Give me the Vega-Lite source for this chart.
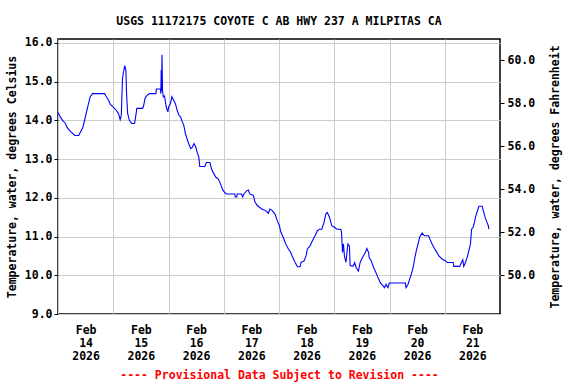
{
  "$schema": "https://vega.github.io/schema/vega-lite/v6.json",
  "width": 442,
  "height": 275,
  "autosize": "none",
  "padding": {"left": 58, "top": 39, "right": 76, "bottom": 70},
  "background": "white",
  "title": {
    "text": "USGS 11172175 COYOTE C AB HWY 237 A MILPITAS CA",
    "font": "DejaVu Sans Mono",
    "fontSize": 11.5,
    "fontWeight": "bold",
    "color": "black",
    "anchor": "middle",
    "offset": 9
  },
  "config": {
    "font": "DejaVu Sans Mono",
    "view": {"stroke": "black", "strokeWidth": 1.5},
    "axis": {
      "labelFont": "DejaVu Sans Mono",
      "labelFontSize": 11.5,
      "labelFontWeight": "bold",
      "labelColor": "black",
      "titleFont": "DejaVu Sans Mono",
      "titleFontSize": 11.5,
      "titleFontWeight": "bold",
      "titleColor": "black",
      "gridColor": "#cccccc",
      "gridWidth": 1,
      "gridOpacity": 1,
      "tickColor": "black",
      "domain": false
    }
  },
  "layer": [
    {
      "data": {
        "values": [
          {"t": "2026-02-14T00:00:00Z", "c": 14.2},
          {"t": "2026-02-14T01:00:00Z", "c": 14.09},
          {"t": "2026-02-14T02:00:00Z", "c": 14.0},
          {"t": "2026-02-14T03:15:00Z", "c": 13.92},
          {"t": "2026-02-14T04:00:00Z", "c": 13.81},
          {"t": "2026-02-14T05:30:00Z", "c": 13.71},
          {"t": "2026-02-14T07:15:00Z", "c": 13.61},
          {"t": "2026-02-14T09:00:00Z", "c": 13.61},
          {"t": "2026-02-14T09:45:00Z", "c": 13.7},
          {"t": "2026-02-14T10:45:00Z", "c": 13.81},
          {"t": "2026-02-14T11:45:00Z", "c": 14.05},
          {"t": "2026-02-14T12:45:00Z", "c": 14.31},
          {"t": "2026-02-14T13:15:00Z", "c": 14.43},
          {"t": "2026-02-14T14:00:00Z", "c": 14.61},
          {"t": "2026-02-14T15:00:00Z", "c": 14.69},
          {"t": "2026-02-14T20:15:00Z", "c": 14.69},
          {"t": "2026-02-14T21:00:00Z", "c": 14.61},
          {"t": "2026-02-14T22:00:00Z", "c": 14.52},
          {"t": "2026-02-14T22:45:00Z", "c": 14.41},
          {"t": "2026-02-15T00:15:00Z", "c": 14.33},
          {"t": "2026-02-15T01:15:00Z", "c": 14.26},
          {"t": "2026-02-15T02:15:00Z", "c": 14.18},
          {"t": "2026-02-15T03:00:00Z", "c": 14.02},
          {"t": "2026-02-15T03:30:00Z", "c": 14.13},
          {"t": "2026-02-15T04:00:00Z", "c": 15.08},
          {"t": "2026-02-15T04:30:00Z", "c": 15.26},
          {"t": "2026-02-15T05:00:00Z", "c": 15.41},
          {"t": "2026-02-15T05:30:00Z", "c": 15.3},
          {"t": "2026-02-15T05:45:00Z", "c": 14.74},
          {"t": "2026-02-15T06:15:00Z", "c": 14.18},
          {"t": "2026-02-15T07:00:00Z", "c": 14.0},
          {"t": "2026-02-15T08:00:00Z", "c": 13.92},
          {"t": "2026-02-15T09:15:00Z", "c": 13.92},
          {"t": "2026-02-15T09:30:00Z", "c": 14.0},
          {"t": "2026-02-15T10:15:00Z", "c": 14.31},
          {"t": "2026-02-15T12:45:00Z", "c": 14.31},
          {"t": "2026-02-15T13:15:00Z", "c": 14.39},
          {"t": "2026-02-15T13:45:00Z", "c": 14.56},
          {"t": "2026-02-15T14:30:00Z", "c": 14.63},
          {"t": "2026-02-15T15:45:00Z", "c": 14.69},
          {"t": "2026-02-15T18:30:00Z", "c": 14.69},
          {"t": "2026-02-15T18:45:00Z", "c": 14.81},
          {"t": "2026-02-15T20:30:00Z", "c": 14.81},
          {"t": "2026-02-15T20:40:00Z", "c": 14.69},
          {"t": "2026-02-15T20:50:00Z", "c": 15.3},
          {"t": "2026-02-15T21:00:00Z", "c": 14.75},
          {"t": "2026-02-15T21:10:00Z", "c": 15.69},
          {"t": "2026-02-15T21:25:00Z", "c": 14.75},
          {"t": "2026-02-15T21:45:00Z", "c": 14.61},
          {"t": "2026-02-15T22:15:00Z", "c": 14.63},
          {"t": "2026-02-15T23:00:00Z", "c": 14.35},
          {"t": "2026-02-15T23:45:00Z", "c": 14.22},
          {"t": "2026-02-16T00:05:00Z", "c": 14.35},
          {"t": "2026-02-16T00:50:00Z", "c": 14.43},
          {"t": "2026-02-16T01:30:00Z", "c": 14.61},
          {"t": "2026-02-16T02:15:00Z", "c": 14.52},
          {"t": "2026-02-16T03:00:00Z", "c": 14.43},
          {"t": "2026-02-16T03:45:00Z", "c": 14.26},
          {"t": "2026-02-16T04:30:00Z", "c": 14.13},
          {"t": "2026-02-16T05:15:00Z", "c": 14.09},
          {"t": "2026-02-16T05:45:00Z", "c": 14.0},
          {"t": "2026-02-16T06:40:00Z", "c": 13.87},
          {"t": "2026-02-16T07:20:00Z", "c": 13.66},
          {"t": "2026-02-16T08:00:00Z", "c": 13.53},
          {"t": "2026-02-16T08:45:00Z", "c": 13.4},
          {"t": "2026-02-16T09:40:00Z", "c": 13.27},
          {"t": "2026-02-16T10:25:00Z", "c": 13.31},
          {"t": "2026-02-16T11:05:00Z", "c": 13.4},
          {"t": "2026-02-16T11:50:00Z", "c": 13.31},
          {"t": "2026-02-16T12:25:00Z", "c": 13.18},
          {"t": "2026-02-16T13:10:00Z", "c": 13.05},
          {"t": "2026-02-16T13:35:00Z", "c": 12.81},
          {"t": "2026-02-16T15:45:00Z", "c": 12.81},
          {"t": "2026-02-16T16:30:00Z", "c": 12.91},
          {"t": "2026-02-16T18:00:00Z", "c": 12.91},
          {"t": "2026-02-16T18:40:00Z", "c": 12.75},
          {"t": "2026-02-16T19:25:00Z", "c": 12.65},
          {"t": "2026-02-16T20:35:00Z", "c": 12.53},
          {"t": "2026-02-16T21:35:00Z", "c": 12.49},
          {"t": "2026-02-16T22:35:00Z", "c": 12.36},
          {"t": "2026-02-16T23:30:00Z", "c": 12.21},
          {"t": "2026-02-17T00:30:00Z", "c": 12.13},
          {"t": "2026-02-17T01:15:00Z", "c": 12.1},
          {"t": "2026-02-17T04:50:00Z", "c": 12.1},
          {"t": "2026-02-17T05:00:00Z", "c": 12.02},
          {"t": "2026-02-17T05:40:00Z", "c": 12.02},
          {"t": "2026-02-17T05:50:00Z", "c": 12.1},
          {"t": "2026-02-17T07:45:00Z", "c": 12.1},
          {"t": "2026-02-17T08:10:00Z", "c": 12.02},
          {"t": "2026-02-17T08:45:00Z", "c": 12.1},
          {"t": "2026-02-17T09:55:00Z", "c": 12.18},
          {"t": "2026-02-17T10:40:00Z", "c": 12.2},
          {"t": "2026-02-17T11:20:00Z", "c": 12.1},
          {"t": "2026-02-17T12:50:00Z", "c": 12.06},
          {"t": "2026-02-17T13:35:00Z", "c": 11.89},
          {"t": "2026-02-17T14:35:00Z", "c": 11.8},
          {"t": "2026-02-17T16:30:00Z", "c": 11.71},
          {"t": "2026-02-17T18:40:00Z", "c": 11.65},
          {"t": "2026-02-17T19:20:00Z", "c": 11.6},
          {"t": "2026-02-17T20:05:00Z", "c": 11.71},
          {"t": "2026-02-17T21:05:00Z", "c": 11.67},
          {"t": "2026-02-17T22:15:00Z", "c": 11.58},
          {"t": "2026-02-17T23:15:00Z", "c": 11.41},
          {"t": "2026-02-18T00:10:00Z", "c": 11.28},
          {"t": "2026-02-18T00:50:00Z", "c": 11.11},
          {"t": "2026-02-18T01:50:00Z", "c": 10.98},
          {"t": "2026-02-18T02:55:00Z", "c": 10.81},
          {"t": "2026-02-18T04:05:00Z", "c": 10.68},
          {"t": "2026-02-18T05:05:00Z", "c": 10.59},
          {"t": "2026-02-18T06:00:00Z", "c": 10.46},
          {"t": "2026-02-18T07:00:00Z", "c": 10.33},
          {"t": "2026-02-18T08:00:00Z", "c": 10.22},
          {"t": "2026-02-18T09:10:00Z", "c": 10.22},
          {"t": "2026-02-18T09:35:00Z", "c": 10.33},
          {"t": "2026-02-18T10:55:00Z", "c": 10.37},
          {"t": "2026-02-18T11:45:00Z", "c": 10.5},
          {"t": "2026-02-18T12:20:00Z", "c": 10.68},
          {"t": "2026-02-18T13:30:00Z", "c": 10.76},
          {"t": "2026-02-18T14:30:00Z", "c": 10.89},
          {"t": "2026-02-18T15:40:00Z", "c": 11.02},
          {"t": "2026-02-18T16:40:00Z", "c": 11.15},
          {"t": "2026-02-18T17:35:00Z", "c": 11.19},
          {"t": "2026-02-18T18:35:00Z", "c": 11.19},
          {"t": "2026-02-18T19:35:00Z", "c": 11.37},
          {"t": "2026-02-18T20:20:00Z", "c": 11.58},
          {"t": "2026-02-18T21:00:00Z", "c": 11.62},
          {"t": "2026-02-18T21:55:00Z", "c": 11.5},
          {"t": "2026-02-18T22:55:00Z", "c": 11.28},
          {"t": "2026-02-19T00:05:00Z", "c": 11.24},
          {"t": "2026-02-19T01:10:00Z", "c": 11.19},
          {"t": "2026-02-19T02:50:00Z", "c": 11.19},
          {"t": "2026-02-19T03:10:00Z", "c": 11.11},
          {"t": "2026-02-19T03:35:00Z", "c": 10.59},
          {"t": "2026-02-19T04:00:00Z", "c": 10.81},
          {"t": "2026-02-19T04:25:00Z", "c": 10.5},
          {"t": "2026-02-19T05:05:00Z", "c": 10.33},
          {"t": "2026-02-19T05:55:00Z", "c": 10.81},
          {"t": "2026-02-19T06:35:00Z", "c": 10.76},
          {"t": "2026-02-19T06:55:00Z", "c": 10.25},
          {"t": "2026-02-19T08:05:00Z", "c": 10.23},
          {"t": "2026-02-19T08:50:00Z", "c": 10.33},
          {"t": "2026-02-19T09:30:00Z", "c": 10.2},
          {"t": "2026-02-19T10:30:00Z", "c": 10.11},
          {"t": "2026-02-19T11:15:00Z", "c": 10.33},
          {"t": "2026-02-19T12:15:00Z", "c": 10.46},
          {"t": "2026-02-19T13:30:00Z", "c": 10.59},
          {"t": "2026-02-19T14:10:00Z", "c": 10.69},
          {"t": "2026-02-19T14:55:00Z", "c": 10.59},
          {"t": "2026-02-19T15:10:00Z", "c": 10.46},
          {"t": "2026-02-19T16:05:00Z", "c": 10.37},
          {"t": "2026-02-19T17:05:00Z", "c": 10.2},
          {"t": "2026-02-19T18:05:00Z", "c": 10.07},
          {"t": "2026-02-19T19:00:00Z", "c": 9.94},
          {"t": "2026-02-19T20:00:00Z", "c": 9.81},
          {"t": "2026-02-19T21:00:00Z", "c": 9.74},
          {"t": "2026-02-19T21:50:00Z", "c": 9.68},
          {"t": "2026-02-19T22:30:00Z", "c": 9.77},
          {"t": "2026-02-19T23:20:00Z", "c": 9.68},
          {"t": "2026-02-19T23:55:00Z", "c": 9.8},
          {"t": "2026-02-20T06:55:00Z", "c": 9.8},
          {"t": "2026-02-20T07:10:00Z", "c": 9.68},
          {"t": "2026-02-20T08:05:00Z", "c": 9.77},
          {"t": "2026-02-20T08:45:00Z", "c": 9.9},
          {"t": "2026-02-20T09:30:00Z", "c": 10.03},
          {"t": "2026-02-20T10:15:00Z", "c": 10.2},
          {"t": "2026-02-20T10:55:00Z", "c": 10.42},
          {"t": "2026-02-20T11:40:00Z", "c": 10.64},
          {"t": "2026-02-20T12:25:00Z", "c": 10.81},
          {"t": "2026-02-20T13:05:00Z", "c": 10.98},
          {"t": "2026-02-20T14:10:00Z", "c": 11.09},
          {"t": "2026-02-20T15:10:00Z", "c": 11.02},
          {"t": "2026-02-20T17:00:00Z", "c": 11.02},
          {"t": "2026-02-20T17:30:00Z", "c": 10.94},
          {"t": "2026-02-20T18:30:00Z", "c": 10.81},
          {"t": "2026-02-20T19:30:00Z", "c": 10.69},
          {"t": "2026-02-20T20:25:00Z", "c": 10.61},
          {"t": "2026-02-20T21:25:00Z", "c": 10.5},
          {"t": "2026-02-20T22:50:00Z", "c": 10.42},
          {"t": "2026-02-21T00:20:00Z", "c": 10.37},
          {"t": "2026-02-21T01:05:00Z", "c": 10.33},
          {"t": "2026-02-21T03:40:00Z", "c": 10.33},
          {"t": "2026-02-21T03:55:00Z", "c": 10.23},
          {"t": "2026-02-21T06:30:00Z", "c": 10.23},
          {"t": "2026-02-21T07:15:00Z", "c": 10.33},
          {"t": "2026-02-21T07:50:00Z", "c": 10.4},
          {"t": "2026-02-21T08:15:00Z", "c": 10.23},
          {"t": "2026-02-21T09:00:00Z", "c": 10.33},
          {"t": "2026-02-21T09:45:00Z", "c": 10.46},
          {"t": "2026-02-21T10:30:00Z", "c": 10.64},
          {"t": "2026-02-21T11:10:00Z", "c": 10.81},
          {"t": "2026-02-21T11:40:00Z", "c": 11.19},
          {"t": "2026-02-21T12:20:00Z", "c": 11.24},
          {"t": "2026-02-21T12:55:00Z", "c": 11.37},
          {"t": "2026-02-21T13:20:00Z", "c": 11.5},
          {"t": "2026-02-21T14:05:00Z", "c": 11.64},
          {"t": "2026-02-21T14:50:00Z", "c": 11.78},
          {"t": "2026-02-21T16:15:00Z", "c": 11.78},
          {"t": "2026-02-21T16:45:00Z", "c": 11.67},
          {"t": "2026-02-21T17:25:00Z", "c": 11.52},
          {"t": "2026-02-21T18:10:00Z", "c": 11.39},
          {"t": "2026-02-21T18:55:00Z", "c": 11.28},
          {"t": "2026-02-21T19:10:00Z", "c": 11.19}
        ]
      },
      "mark": {"type": "line", "color": "#0000ff", "strokeWidth": 1.1, "clip": true},
      "encoding": {
        "x": {
          "field": "t",
          "type": "temporal",
          "scale": {
            "type": "utc",
            "domain": [
              {"year": 2026, "month": 2, "date": 14, "utc": true},
              {"year": 2026, "month": 2, "date": 22, "utc": true}
            ]
          },
          "axis": {
            "orient": "bottom",
            "values": [
              {"year": 2026, "month": 2, "date": 14, "utc": true},
              {"year": 2026, "month": 2, "date": 15, "utc": true},
              {"year": 2026, "month": 2, "date": 16, "utc": true},
              {"year": 2026, "month": 2, "date": 17, "utc": true},
              {"year": 2026, "month": 2, "date": 18, "utc": true},
              {"year": 2026, "month": 2, "date": 19, "utc": true},
              {"year": 2026, "month": 2, "date": 20, "utc": true},
              {"year": 2026, "month": 2, "date": 21, "utc": true}
            ],
            "labelExpr": "['Feb', utcFormat(datum.value, '%d'), '2026']",
            "labelOffset": 27.6,
            "labelAlign": "center",
            "labelBaseline": "top",
            "labelLineHeight": 13.3,
            "labelPadding": 10,
            "labelOverlap": false,
            "labelBound": false,
            "labelFlush": false,
            "ticks": false,
            "grid": true,
            "title": "---- Provisional Data Subject to Revision ----",
            "titleColor": "#ff0000",
            "titlePadding": 7
          }
        },
        "y": {
          "field": "c",
          "type": "quantitative",
          "scale": {"domain": [9, 16.1], "nice": false, "zero": false},
          "axis": {
            "orient": "left",
            "values": [9, 10, 11, 12, 13, 14, 15, 16],
            "format": ".1f",
            "grid": true,
            "tickSize": 4,
            "labelPadding": 2,
            "title": "Temperature, water, degrees Celsius",
            "titlePadding": 7
          }
        }
      }
    },
    {
      "data": {"values": [{"f": 48.2}, {"f": 60.98}]},
      "mark": {"type": "point", "opacity": 0},
      "encoding": {
        "y": {
          "field": "f",
          "type": "quantitative",
          "scale": {"domain": [48.2, 60.98], "nice": false, "zero": false},
          "axis": {
            "orient": "right",
            "values": [50, 52, 54, 56, 58, 60],
            "format": ".1f",
            "grid": false,
            "tickSize": 4,
            "labelPadding": 3,
            "title": "Temperature, water, degrees Fahrenheit",
            "titleAngle": 270,
            "titleBaseline": "bottom",
            "titlePadding": 26
          }
        }
      }
    }
  ],
  "resolve": {"scale": {"y": "independent"}}
}
